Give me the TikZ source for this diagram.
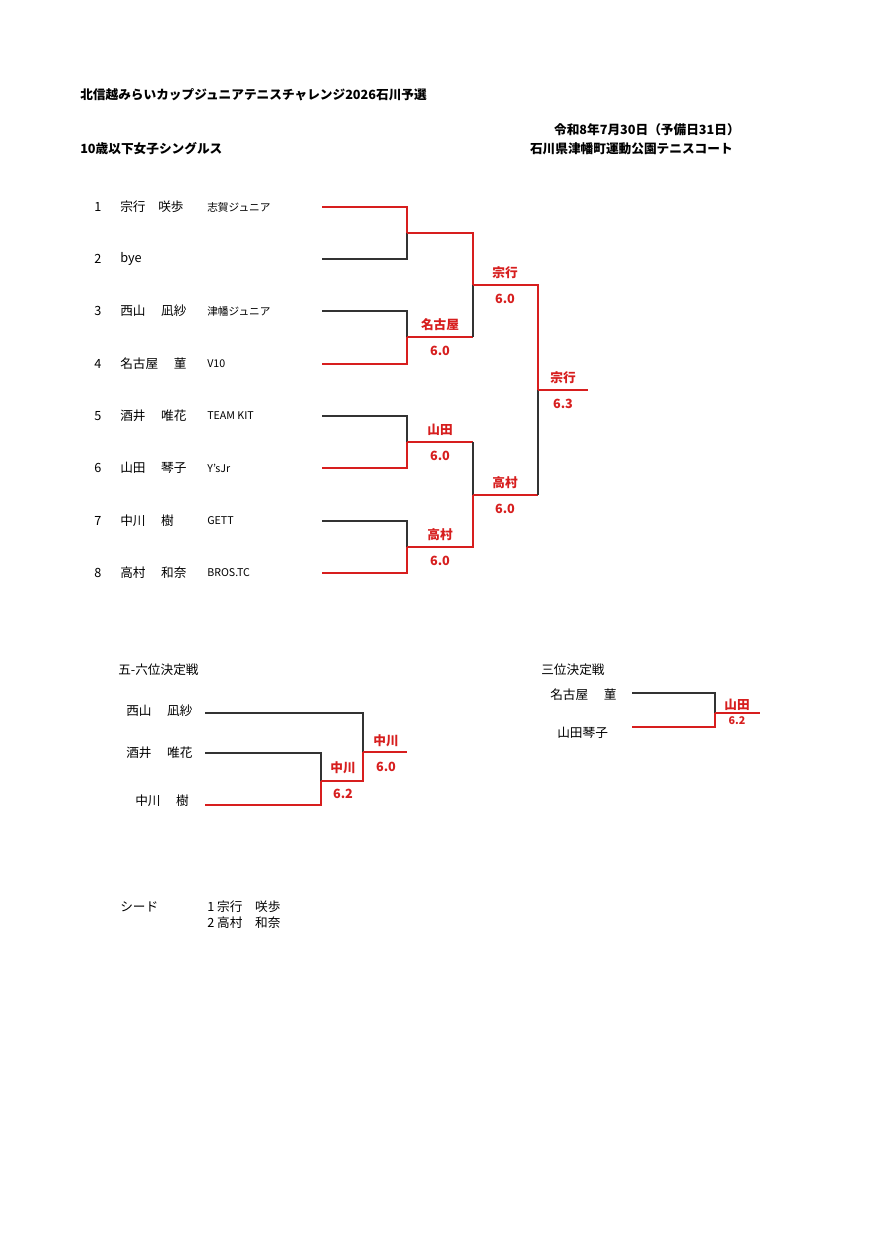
\documentclass[tikz,border=0pt]{standalone}
\usepackage{fontspec}
\setmainfont{Noto Sans CJK JP}
\definecolor{rr}{RGB}{215,30,30}
\begin{document}
\begin{tikzpicture}[x=0.75pt,y=-0.75pt,
 rd/.style={draw=rr,line width=0.9pt},
 bk/.style={draw=black!80,line width=0.9pt},
 t/.style={inner sep=0,anchor=west,font=\fontsize{9.5}{11}\selectfont},
 c/.style={inner sep=0,anchor=west,font=\fontsize{8}{9}\selectfont},
 rl/.style={inner sep=0,text=rr,font=\bfseries\fontsize{9.5}{11}\selectfont},
 h/.style={inner sep=0,font=\bfseries\fontsize{9.5}{11}\selectfont}]
\useasboundingbox (0,0) rectangle (890,1258);
\fill[white] (0,0) rectangle (890,1258);
\node[h,anchor=west] (title) at (80,95) {北信越みらいカップジュニアテニスチャレンジ2026石川予選};
\node[h,anchor=east] (date) at (740,130) {令和8年7月30日（予備日31日）};
\node[h,anchor=west] (cat) at (80,149) {10歳以下女子シングルス};
\node[h,anchor=east] (venue) at (733,149) {石川県津幡町運動公園テニスコート};
\foreach \i/\n/\cl/\y in {1/宗行　咲歩/志賀ジュニア/207,2/bye//259,3/西山　 凪紗/津幡ジュニア/311,4/名古屋　 菫/V10/364,5/酒井　 唯花/TEAM KIT/416,6/山田　 琴子/Y'sJr/468,7/中川　 樹/GETT/521,8/高村　 和奈/BROS.TC/573}{
 \node[t] (n\i) at (94,\y) {\i};
 \node[t] (p\i) at (120,\y) {\n};
 \node[c] (c\i) at (207,\y) {\cl};
}
\draw[rd] (322,207)--(407,207)--(407,233);
\draw[bk] (322,259)--(407,259)--(407,233);
\draw[bk] (322,311)--(407,311)--(407,337);
\draw[rd] (322,364)--(407,364)--(407,337);
\draw[bk] (322,416)--(407,416)--(407,442);
\draw[rd] (322,468)--(407,468)--(407,442);
\draw[bk] (322,521)--(407,521)--(407,547);
\draw[rd] (322,573)--(407,573)--(407,547);
\draw[rd] (407,233)--(473,233)--(473,285);
\draw[rd] (407,337)--(473,337);
\draw[bk] (473,337)--(473,285);
\draw[rd] (407,442)--(473,442);
\draw[bk] (473,442)--(473,495);
\draw[rd] (407,547)--(473,547)--(473,495);
\draw[rd] (473,285)--(538,285)--(538,390);
\draw[rd] (473,495)--(538,495);
\draw[bk] (538,495)--(538,390);
\draw[rd] (538,390)--(588,390);
\node[rl] (w3) at (440,325) {名古屋}; \node[rl] (s3) at (440,351) {6.0};
\node[rl] (w5) at (440,430) {山田}; \node[rl] (s5) at (440,456) {6.0};
\node[rl] (w7) at (440,535) {高村}; \node[rl] (s7) at (440,561) {6.0};
\node[rl] (w21) at (505,273) {宗行}; \node[rl] (s21) at (505,299) {6.0};
\node[rl] (w22) at (505,483) {高村}; \node[rl] (s22) at (505,509) {6.0};
\node[rl] (wf) at (563,378) {宗行}; \node[rl] (sf) at (563,404) {6.3};
\node[t] (t56) at (118,670) {五-六位決定戦};
\node[t] (a1) at (126,711) {西山　 凪紗};
\node[t] (a2) at (126,753) {酒井　 唯花};
\node[t] (a3) at (135,801) {中川　 樹};
\draw[bk] (205,713)--(363,713)--(363,752);
\draw[bk] (205,753)--(321,753)--(321,781);
\draw[rd] (205,805)--(321,805)--(321,781);
\draw[rd] (321,781)--(363,781)--(363,752);
\draw[rd] (363,752)--(407,752);
\node[rl] (b1) at (343,768) {中川}; \node[rl] (b2) at (343,794) {6.2};
\node[rl] (b3) at (386,741) {中川}; \node[rl] (b4) at (386,767) {6.0};
\node[t] (t3) at (541,670) {三位決定戦};
\node[t] (d1) at (550,695) {名古屋　 菫};
\node[t] (d2) at (557,733) {山田琴子};
\draw[bk] (632,693)--(715,693)--(715,713);
\draw[rd] (632,727)--(715,727)--(715,713);
\draw[rd] (715,713)--(760,713);
\node[rl] (e1) at (737,705) {山田};
\node[rl,font=\bfseries\fontsize{8}{9}\selectfont] (e2) at (737,721) {6.2};
\node[t] (sd) at (120,907) {シード};
\node[t] (sd1) at (207,907) {1 宗行　咲歩};
\node[t] (sd2) at (207,923) {2 高村　和奈};
\end{tikzpicture}
\end{document}
